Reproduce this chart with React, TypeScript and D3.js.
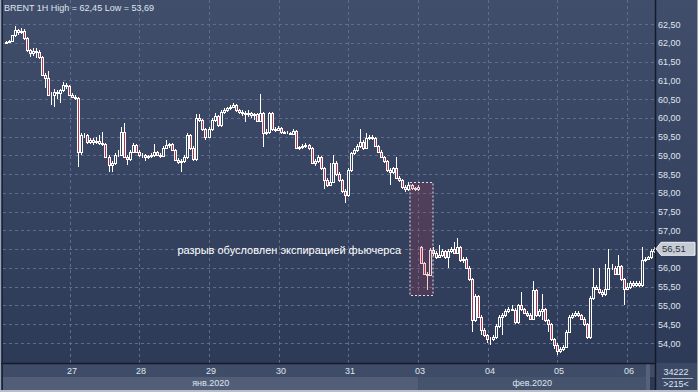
import React from 'react';
import * as d3 from 'd3';

type Candle = [number, number, number, number]; // open, high, low, close

const symbol = 'BRENT 1H';

const jan24: Candle[] = [
  [62.00, 62.06, 61.98, 62.02], [62.02, 62.07, 61.99, 62.04], [62.04, 62.22, 62.02, 62.20],
  [62.20, 62.45, 62.16, 62.35], [62.35, 62.38, 62.22, 62.28], [62.28, 62.40, 62.24, 62.32],
  [62.32, 62.36, 62.08, 62.12], [62.12, 62.15, 61.76, 61.80], [61.80, 61.84, 61.62, 61.72],
  [61.72, 61.85, 61.64, 61.78], [61.78, 61.86, 61.60, 61.76], [61.76, 61.80, 61.58, 61.62],
  [61.62, 61.66, 61.12, 61.15], [61.15, 61.20, 60.80, 61.05], [61.05, 61.25, 60.58, 60.62],
  [60.62, 60.70, 60.35, 60.60], [60.60, 60.76, 60.30, 60.70], [60.70, 60.74, 60.50, 60.65],
  [60.65, 60.78, 60.40, 60.74], [60.74, 60.95, 60.70, 60.88], [60.88, 60.92, 60.78, 60.85],
  [60.85, 60.88, 60.58, 60.62],
];
const jan27: Candle[] = [
  [60.62, 60.65, 60.52, 60.55], [60.55, 60.60, 60.48, 60.53], [60.53, 60.55, 58.70, 59.10],
  [59.10, 59.60, 59.00, 59.54], [59.54, 59.60, 59.45, 59.55], [59.55, 59.58, 59.30, 59.35],
  [59.35, 59.45, 59.30, 59.40], [59.40, 59.45, 59.28, 59.35], [59.35, 59.50, 59.30, 59.38],
  [59.38, 59.55, 59.28, 59.33], [59.33, 59.62, 59.25, 59.30], [59.30, 59.34, 58.92, 58.95],
  [58.95, 59.00, 58.55, 58.75], [58.75, 58.85, 58.55, 58.80], [58.80, 59.05, 58.75, 59.00],
  [59.00, 59.15, 58.95, 59.02], [59.02, 59.75, 58.98, 59.62], [59.62, 59.86, 58.92, 58.96],
  [58.96, 59.00, 58.75, 58.90], [58.90, 59.15, 58.85, 59.10], [59.10, 59.32, 59.05, 59.27],
  [59.27, 59.30, 59.05, 59.10], [59.10, 59.14, 58.95, 59.00],
];
const jan28: Candle[] = [
  [59.00, 59.06, 58.92, 59.00], [59.00, 59.04, 58.85, 58.95], [58.95, 59.02, 58.90, 58.98],
  [58.98, 59.05, 58.94, 59.00], [59.00, 59.30, 58.96, 59.08], [59.08, 59.12, 58.98, 59.02],
  [59.02, 59.06, 58.94, 58.98], [58.98, 59.24, 58.95, 59.20], [59.20, 59.40, 59.16, 59.28],
  [59.28, 59.34, 59.20, 59.30], [59.30, 59.33, 59.12, 59.15], [59.15, 59.18, 58.85, 58.88],
  [58.88, 58.92, 58.78, 58.82], [58.82, 58.90, 58.55, 58.85], [58.85, 59.00, 58.80, 58.95],
  [58.95, 59.60, 58.90, 59.55], [59.55, 59.58, 59.15, 59.20], [59.20, 59.24, 58.85, 58.90],
  [58.90, 60.10, 58.86, 60.00], [60.00, 60.10, 59.90, 59.95], [59.95, 59.98, 59.65, 59.70],
  [59.70, 59.74, 59.40, 59.50], [59.50, 59.75, 59.45, 59.70],
];
const jan29: Candle[] = [
  [59.70, 60.00, 59.66, 59.95], [59.95, 60.12, 59.90, 60.05], [60.05, 60.08, 59.76, 59.80],
  [59.80, 60.20, 59.76, 60.15], [60.15, 60.25, 60.10, 60.20], [60.20, 60.30, 60.16, 60.25],
  [60.25, 60.34, 60.20, 60.30], [60.30, 60.40, 60.26, 60.35], [60.35, 60.38, 60.16, 60.20],
  [60.20, 60.24, 60.10, 60.15], [60.15, 60.20, 60.05, 60.12], [60.12, 60.18, 59.90, 60.10],
  [60.10, 60.20, 60.02, 60.13], [60.13, 60.16, 60.00, 60.08], [60.08, 60.14, 59.95, 60.10],
  [60.10, 60.12, 59.88, 59.92], [59.92, 60.64, 59.88, 60.12], [60.12, 60.15, 59.23, 59.60],
  [59.60, 59.70, 59.55, 59.62], [59.62, 60.16, 59.58, 60.12], [60.12, 60.15, 59.66, 59.70],
  [59.70, 59.76, 59.62, 59.68], [59.68, 59.78, 59.64, 59.72],
];
const jan30: Candle[] = [
  [59.72, 59.75, 59.58, 59.62], [59.62, 59.66, 59.56, 59.60], [59.60, 59.64, 59.56, 59.60],
  [59.60, 59.63, 59.55, 59.58], [59.58, 59.70, 59.55, 59.65], [59.65, 59.68, 59.18, 59.20],
  [59.20, 59.26, 59.15, 59.22], [59.22, 59.30, 59.18, 59.25], [59.25, 59.32, 59.20, 59.27],
  [59.27, 59.30, 59.15, 59.20], [59.20, 59.23, 58.76, 58.80], [58.80, 58.90, 58.72, 58.85],
  [58.85, 59.00, 58.80, 58.95], [58.95, 58.98, 58.60, 58.65], [58.65, 58.68, 58.10, 58.35],
  [58.35, 58.40, 58.15, 58.22], [58.22, 58.80, 58.18, 58.30], [58.30, 59.00, 58.26, 58.80],
  [58.80, 58.84, 58.45, 58.50], [58.50, 58.55, 58.30, 58.35], [58.35, 58.38, 58.00, 58.05],
  [58.05, 58.10, 57.73, 57.95], [57.95, 58.65, 57.90, 58.60],
];
const jan31: Candle[] = [
  [58.60, 59.10, 58.55, 59.05], [59.05, 59.20, 59.00, 59.15], [59.15, 59.30, 59.10, 59.25],
  [59.25, 59.70, 59.20, 59.35], [59.35, 59.40, 59.15, 59.20], [59.20, 59.60, 59.16, 59.45],
  [59.45, 59.55, 59.40, 59.50], [59.50, 59.53, 59.40, 59.45], [59.45, 59.48, 59.22, 59.25],
  [59.25, 59.28, 59.06, 59.10], [59.10, 59.13, 58.92, 58.95], [58.95, 58.98, 58.80, 58.85],
  [58.85, 58.88, 58.56, 58.60], [58.60, 58.66, 58.20, 58.55], [58.55, 58.70, 58.50, 58.65],
  [58.65, 58.95, 58.36, 58.40], [58.40, 58.45, 58.30, 58.35], [58.35, 58.38, 58.10, 58.15],
  [58.15, 58.20, 58.02, 58.10], [58.10, 58.30, 58.05, 58.20], [58.20, 58.24, 58.08, 58.12],
  [58.12, 58.16, 58.05, 58.10], [58.10, 58.20, 58.06, 58.15],
];
const feb03: Candle[] = [
  [56.55, 56.58, 56.10, 56.13], [56.13, 56.16, 55.80, 55.85], [55.85, 55.90, 55.40, 55.82],
  [55.82, 56.52, 55.78, 56.48], [56.48, 56.55, 56.32, 56.40], [56.40, 56.44, 56.25, 56.30],
  [56.30, 56.60, 56.26, 56.35], [56.35, 56.50, 56.30, 56.45], [56.45, 56.48, 56.25, 56.30],
  [56.30, 56.50, 56.00, 56.45], [56.45, 56.55, 56.40, 56.50], [56.50, 56.70, 56.36, 56.40],
  [56.40, 56.80, 56.36, 56.55], [56.55, 56.58, 56.16, 56.20], [56.20, 56.30, 56.14, 56.25],
  [56.25, 56.28, 55.96, 56.00], [56.00, 56.04, 55.66, 55.70], [55.70, 55.74, 54.30, 54.60],
  [54.60, 55.30, 54.55, 55.25], [55.25, 55.28, 54.66, 54.70], [54.70, 54.74, 54.20, 54.35],
  [54.35, 54.40, 54.15, 54.20], [54.20, 54.25, 54.00, 54.10],
];
const feb04: Candle[] = [
  [54.10, 54.15, 53.95, 54.10], [54.10, 54.20, 54.05, 54.15], [54.15, 54.50, 54.10, 54.45],
  [54.45, 54.75, 54.40, 54.70], [54.70, 54.80, 54.20, 54.75], [54.75, 54.90, 54.70, 54.85],
  [54.85, 54.96, 54.80, 54.90], [54.90, 55.00, 54.84, 54.88], [54.88, 54.92, 54.50, 54.55],
  [54.55, 55.05, 54.50, 55.00], [55.00, 55.35, 54.86, 54.90], [54.90, 54.94, 54.76, 54.80],
  [54.80, 54.86, 54.70, 54.75], [54.75, 54.80, 54.60, 54.65], [54.65, 55.65, 54.60, 55.40],
  [55.40, 55.44, 54.70, 54.75], [54.75, 54.90, 54.70, 54.85], [54.85, 55.30, 54.60, 54.90],
  [54.90, 54.94, 54.56, 54.60], [54.60, 54.64, 54.30, 54.50], [54.50, 54.54, 54.05, 54.10],
  [54.10, 54.14, 53.85, 53.95], [53.95, 54.00, 53.69, 53.80],
];
const feb05: Candle[] = [
  [53.80, 53.90, 53.74, 53.85], [53.85, 53.95, 53.80, 53.90], [53.90, 54.35, 53.86, 54.30],
  [54.30, 54.75, 54.26, 54.70], [54.70, 54.80, 54.64, 54.75], [54.75, 54.85, 54.70, 54.80],
  [54.80, 54.84, 54.68, 54.75], [54.75, 54.78, 54.60, 54.65], [54.65, 54.68, 54.45, 54.50],
  [54.50, 54.54, 54.10, 54.15], [54.15, 55.25, 54.10, 55.20], [55.20, 56.00, 55.15, 55.50],
  [55.50, 55.55, 55.40, 55.45], [55.45, 56.00, 55.30, 55.35], [55.35, 55.40, 55.22, 55.30],
  [55.30, 56.10, 55.25, 55.45], [55.45, 56.50, 55.40, 56.00], [56.00, 56.10, 55.94, 56.00],
  [56.00, 56.04, 55.80, 55.85], [55.85, 56.35, 55.80, 56.05], [56.05, 56.08, 55.66, 55.70],
  [55.70, 55.74, 55.00, 55.45], [55.45, 55.60, 55.40, 55.50],
];
const feb06: Candle[] = [
  [55.50, 55.65, 55.45, 55.60], [55.60, 55.64, 55.50, 55.55], [55.55, 55.65, 55.50, 55.60],
  [55.60, 55.64, 55.50, 55.55], [55.55, 56.55, 55.50, 56.20], [56.20, 56.30, 56.15, 56.25],
  [56.25, 56.32, 56.20, 56.28], [56.28, 56.50, 56.24, 56.45], [56.45, 56.55, 56.40, 56.51],
];

const tradingDays: Candle[][] = [jan24, jan27, jan28, jan29, jan30, jan31, feb03, feb04, feb05, feb06];
const dayLabels = ['', '27', '28', '29', '30', '31', '03', '04', '05', '06'];
const monthLabels = ['янв.2020', 'фев.2020'];
const yTicks = [54, 54.5, 55, 55.5, 56, 56.5, 57, 57.5, 58, 58.5, 59, 59.5, 60, 60.5, 61, 61.5, 62, 62.5];
const gapNote = 'разрыв обусловлен экспирацией фьючерса';
const gapDayIndex = 6; // expiry gap before this day (also first February day)
const volumeText = '34222';
const barCountText = '>215<';

const W = 698;
const H = 392;
const FONT = '"Liberation Sans", Arial, sans-serif';
const TXT = '#dfe5ef';
const GRID = '#5e6d8d';
const RED = '#b5334f';

export default function App() {
  const candles: Candle[] = tradingDays.flat();
  const dayStart: number[] = [];
  let acc = 0;
  tradingDays.forEach((d) => { dayStart.push(acc); acc += d.length; });
  const n = candles.length;

  const plotLeft = 3, plotRight = 655, plotBottom = 363;
  const x = d3.scaleLinear().domain([0, n]).range([4, 4 + n * 3.03]);
  const y = d3.scaleLinear().domain([54, 62.5]).range([343, 24]);
  const cx = (i: number) => Math.round(x(i) + 1.5) + 0.5;
  const fmt = (v: number) => d3.format('.2f')(v).replace('.', ',');

  const hi = d3.max(candles, (c) => c[1]) as number;
  const lo = d3.min(candles, (c) => c[2]) as number;
  const last = candles[n - 1][3];

  const gridX = dayStart.slice(1).map((s) => Math.round(x(s)) - 0.5);
  const monthBoundary = Math.round(x(dayStart[gapDayIndex])) - 0.5;

  const g0 = dayStart[gapDayIndex];
  const boxCandles = candles.slice(g0 - 3, g0 + 4);
  const boxTop = y(d3.max(boxCandles, (c) => c[1]) as number) - 2;
  const boxBottom = y(d3.min(boxCandles, (c) => c[2]) as number) + 4;
  const boxL = cx(g0 - 3) - 2.5;
  const boxR = cx(g0 + 3) + 2.5;

  const ly = y(last);

  return (
    <svg width={W} height={H} style={{ position: 'absolute', left: 0, top: 0 }} fontFamily={FONT}>
      <defs>
        <linearGradient id="bg" x1="0" y1="0" x2="0" y2="1">
          <stop offset="0" stopColor="#404e6b" />
          <stop offset="1" stopColor="#2c3956" />
        </linearGradient>
      </defs>
      <rect x={0} y={0} width={W} height={H} fill="url(#bg)" />
      {/* bottom axis rows */}
      <rect x={plotLeft} y={plotBottom} width={plotRight - plotLeft} height={14} fill="#3f4c67" />
      <rect x={plotLeft} y={plotBottom + 14} width={monthBoundary - plotLeft} height={13} fill="#525e78" />
      <rect x={monthBoundary} y={plotBottom + 14} width={646 - monthBoundary} height={13} fill="#46536d" />
      <rect x={646} y={plotBottom + 1} width={4} height={26} fill="#56627a" />
      <rect x={plotRight + 1} y={plotBottom} width={W - plotRight - 1} height={27} fill="#3c4965" />

      {/* grid */}
      {yTicks.map((t) => (
        <line key={'gy' + t} x1={plotLeft} x2={plotRight} y1={Math.round(y(t)) + 0.5} y2={Math.round(y(t)) + 0.5}
          stroke={GRID} strokeDasharray="3,3" strokeWidth={1} />
      ))}
      {gridX.map((gx, i) => (
        <line key={'gx' + i} x1={gx} x2={gx} y1={0} y2={plotBottom} stroke={GRID} strokeDasharray="3,3" strokeWidth={1} />
      ))}

      {/* candles */}
      {candles.map((c, i) => {
        const [o, h, l, cl] = c;
        const X = cx(i);
        const top = Math.round(y(Math.max(o, cl)));
        const bot = Math.round(y(Math.min(o, cl)));
        const bear = cl < o;
        return (
          <g key={i}>
            <line x1={X} x2={X} y1={Math.round(y(h))} y2={Math.round(y(l))} stroke="#ffffff" strokeWidth={1} />
            <rect x={X - 1} y={top + 0.5} width={2} height={Math.max(bot - top, 0)}
              fill={bear ? RED : '#34425f'} stroke="#ffffff" strokeWidth={1} />
          </g>
        );
      })}

      {/* gap box */}
      <rect x={boxL} y={Math.round(boxTop) + 0.5} width={boxR - boxL} height={Math.round(boxBottom - boxTop)}
        fill="rgba(175,50,75,0.22)" stroke="#e6dfe8" strokeDasharray="2,2" strokeWidth={1} />
      <text x={boxL - 9} y={254} fill="#ffffff" fontSize={11} textAnchor="end">{gapNote}</text>

      {/* axis separators */}
      <line x1={plotRight + 0.5} x2={plotRight + 0.5} y1={0} y2={H} stroke="#141a26" strokeWidth={1.5} />
      <line x1={0} x2={plotRight} y1={plotBottom + 0.5} y2={plotBottom + 0.5} stroke="#141a26" strokeWidth={1.5} />
      <line x1={2.5} x2={2.5} y1={0} y2={H} stroke="#1c2333" strokeWidth={1} />

      {/* y labels (the one under the last-price tag is covered by it) */}
      {yTicks.filter((t) => Math.abs(y(t) - ly) > 10).map((t) => (
        <text key={'yl' + t} x={658} y={y(t) + 3.5} fill={TXT} fontSize={9}>{fmt(t)}</text>
      ))}

      {/* last price tag */}
      <path d={`M${plotRight + 1},${ly} L${plotRight + 6},${ly - 6.5} L${W - 3},${ly - 6.5} L${W - 3},${ly + 6.5} L${plotRight + 6},${ly + 6.5} Z`}
        fill="#c6cbd4" stroke="#eef0f4" strokeWidth={1} />
      <text x={662} y={ly + 3.5} fill="#2a3142" fontSize={9.5}>{fmt(last)}</text>

      {/* x labels */}
      {dayLabels.map((lab, i) => lab ? (
        <text key={'xl' + i} x={Math.round(x(dayStart[i])) + 1} y={374} fill={TXT} fontSize={9} textAnchor="middle">{lab}</text>
      ) : null)}
      {monthLabels.map((m, mi) => {
        const a = mi === 0 ? plotLeft : monthBoundary;
        const b = mi === 0 ? monthBoundary : 646;
        return <text key={m} x={(a + b) / 2} y={386} fill={TXT} fontSize={9} textAnchor="middle">{m}</text>;
      })}

      {/* bottom right info */}
      <text x={676} y={375} fill={TXT} fontSize={9} textAnchor="middle">{volumeText}</text>
      <line x1={662} x2={693} y1={378.5} y2={378.5} stroke="#aab3c4" strokeWidth={1} />
      <text x={676} y={387} fill={TXT} fontSize={9} textAnchor="middle">{barCountText}</text>

      {/* title */}
      <text x={4} y={11} fill={TXT} fontSize={9}>{`${symbol} High = ${fmt(hi)} Low = ${fmt(lo)}`}</text>

      {/* frame */}
      <rect x={0.5} y={-1} width={W - 1} height={H - 0.5} fill="none" stroke="#9aa3b3" strokeWidth={1} />
      <line x1={0} x2={W} y1={H - 1} y2={H - 1} stroke="#b8bfcb" strokeWidth={2} />
    </svg>
  );
}
